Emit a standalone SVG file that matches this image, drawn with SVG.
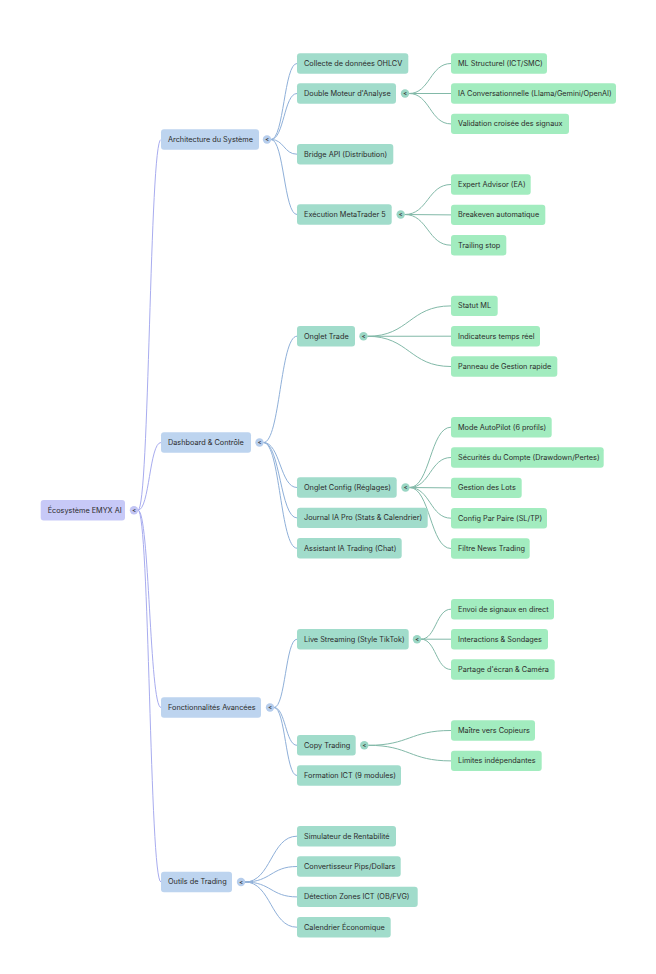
<svg xmlns="http://www.w3.org/2000/svg" width="656" height="974" viewBox="0 0 656 974">
<style>
.bg{fill:#ffffff}
rect.n{rx:3;ry:3;height:20.4px}
.n0{fill:#c7c9f7}
.n1{fill:#bdd4ef}
.n2{fill:#a1dccb}
.n3{fill:#a2ecbf}
text{font-family:Inter,"Noto Sans","Liberation Sans",sans-serif;font-size:7.3px;fill:#2b2b2b}
.tg{font-size:5.5px;font-weight:bold;fill:#333333;text-anchor:middle}
.c0{fill:#c2c5f4}
.c1{fill:#b6cdec}
.c2{fill:#9ad6c4}
.e0{fill:none;stroke:#a8acef;stroke-width:1}
.e1{fill:none;stroke:#8fb0d9;stroke-width:1}
.e2{fill:none;stroke:#82b9a8;stroke-width:1}
</style>
<rect class="bg" x="0" y="0" width="656" height="974"/>
<g id="connectors">
<path class="e0" d="M138,510.2 C149.5,510.2 149.5,139.5 161,139.5"/>
<path class="e0" d="M138,510.2 C149.5,510.2 149.5,442.5 161,442.5"/>
<path class="e0" d="M138,510.2 C149.5,510.2 149.5,707.5 161,707.5"/>
<path class="e0" d="M138,510.2 C149.5,510.2 149.5,882 161,882"/>
<path class="e1" d="M271,139.5 C284,139.5 284,63.5 297,63.5"/>
<path class="e1" d="M271,139.5 C284,139.5 284,93.5 297,93.5"/>
<path class="e1" d="M271,139.5 C284,139.5 284,154.2 297,154.2"/>
<path class="e1" d="M271,139.5 C284,139.5 284,214.5 297,214.5"/>
<path class="e2" d="M409,93.5 C430,93.5 430,63.5 451,63.5"/>
<path class="e2" d="M409,93.5 L451,93.5"/>
<path class="e2" d="M409,93.5 C430,93.5 430,123.9 451,123.9"/>
<path class="e2" d="M404.7,214.5 C427.9,214.5 427.9,184.5 451,184.5"/>
<path class="e2" d="M404.7,214.5 L451,214.9"/>
<path class="e2" d="M404.7,214.5 C427.9,214.5 427.9,245.2 451,245.2"/>
<path class="e1" d="M263.5,442.5 C280.2,442.5 280.2,336.2 297,336.2"/>
<path class="e1" d="M263.5,442.5 C280.2,442.5 280.2,487.5 297,487.5"/>
<path class="e1" d="M263.5,442.5 C280.2,442.5 280.2,517.9 297,517.9"/>
<path class="e1" d="M263.5,442.5 C280.2,442.5 280.2,548.2 297,548.2"/>
<path class="e2" d="M367.5,336.3 C409.3,336.3 409.3,305.9 451,305.9"/>
<path class="e2" d="M367.5,336.3 L451,336.2"/>
<path class="e2" d="M367.5,336.3 C409.3,336.3 409.3,366.5 451,366.5"/>
<path class="e2" d="M409.5,487.5 C430.2,487.5 430.2,427.2 451,427.2"/>
<path class="e2" d="M409.5,487.5 C430.2,487.5 430.2,457.5 451,457.5"/>
<path class="e2" d="M409.5,487.5 L451,487.9"/>
<path class="e2" d="M409.5,487.5 C430.2,487.5 430.2,518.2 451,518.2"/>
<path class="e2" d="M409.5,487.5 C430.2,487.5 430.2,548.5 451,548.5"/>
<path class="e1" d="M274,707.5 C285.5,707.5 285.5,639.2 297,639.2"/>
<path class="e1" d="M274,707.5 C285.5,707.5 285.5,745.3 297,745.3"/>
<path class="e1" d="M274,707.5 C285.5,707.5 285.5,775.5 297,775.5"/>
<path class="e2" d="M421,639.2 C436,639.2 436,609.2 451,609.2"/>
<path class="e2" d="M421,639.2 L451,639.2"/>
<path class="e2" d="M421,639.2 C436,639.2 436,669.5 451,669.5"/>
<path class="e2" d="M368.3,745.3 C409.6,745.3 409.6,730.5 451,730.5"/>
<path class="e2" d="M368.3,745.3 C409.6,745.3 409.6,760.9 451,760.9"/>
<path class="e1" d="M245,882 C271,882 271,836.2 297,836.2"/>
<path class="e1" d="M245,882 C271,882 271,866.5 297,866.5"/>
<path class="e1" d="M245,882 C271,882 271,896.9 297,896.9"/>
<path class="e1" d="M245,882 C271,882 271,927.2 297,927.2"/>
</g>

<g id="root"><rect class="n n0" x="40.7" y="500" width="84.3"/><text x="47.7" y="512.5">Écosystème EMYX AI</text><circle class="c0" cx="134" cy="510.2" r="4.2"/><text class="tg" x="134" y="512.1">&lt;</text></g>

<g id="architecture"><rect class="n n1" x="161" y="129.3" width="98"/><text x="168" y="141.8">Architecture du Système</text><circle class="c1" cx="267" cy="139.5" r="4.2"/><text class="tg" x="267" y="141.4">&lt;</text></g>
<g id="dashboard"><rect class="n n1" x="161" y="432.3" width="90"/><text x="168" y="444.8">Dashboard &amp; Contrôle</text><circle class="c1" cx="259.5" cy="442.5" r="4.2"/><text class="tg" x="259.5" y="444.4">&lt;</text></g>
<g id="fonctionnalites"><rect class="n n1" x="161" y="697.3" width="100"/><text x="168" y="709.8">Fonctionnalités Avancées</text><circle class="c1" cx="270" cy="707.5" r="4.2"/><text class="tg" x="270" y="709.4">&lt;</text></g>
<g id="outils"><rect class="n n1" x="161" y="871.8" width="71"/><text x="168" y="884.3">Outils de Trading</text><circle class="c1" cx="241" cy="882" r="4.2"/><text class="tg" x="241" y="883.9">&lt;</text></g>

<g id="collecte"><rect class="n n2" x="297" y="53.3" width="111.3"/><text x="304" y="65.8">Collecte de données OHLCV</text></g>
<g id="double-moteur"><rect class="n n2" x="297" y="83.3" width="99"/><text x="304" y="95.8">Double Moteur d'Analyse</text><circle class="c2" cx="405" cy="93.5" r="4.2"/><text class="tg" x="405" y="95.4">&lt;</text></g>
<g id="bridge"><rect class="n n2" x="297" y="144" width="96.3"/><text x="304" y="156.5">Bridge API (Distribution)</text></g>
<g id="execution"><rect class="n n2" x="297" y="204.3" width="94.7"/><text x="304" y="216.8">Exécution MetaTrader 5</text><circle class="c2" cx="400.7" cy="214.5" r="4.2"/><text class="tg" x="400.7" y="216.4">&lt;</text></g>
<g id="onglet-trade"><rect class="n n2" x="297" y="326" width="58"/><text x="304" y="338.5">Onglet Trade</text><circle class="c2" cx="363.5" cy="336.3" r="4.2"/><text class="tg" x="363.5" y="338.2">&lt;</text></g>
<g id="onglet-config"><rect class="n n2" x="297" y="477.3" width="99.7"/><text x="304" y="489.8">Onglet Config (Réglages)</text><circle class="c2" cx="405.5" cy="487.5" r="4.2"/><text class="tg" x="405.5" y="489.4">&lt;</text></g>
<g id="journal"><rect class="n n2" x="297" y="507.7" width="130.7"/><text x="304" y="520.2">Journal IA Pro (Stats &amp; Calendrier)</text></g>
<g id="assistant"><rect class="n n2" x="297" y="538" width="104.7"/><text x="304" y="550.5">Assistant IA Trading (Chat)</text></g>
<g id="live"><rect class="n n2" x="297" y="629" width="111.7"/><text x="304" y="641.5">Live Streaming (Style TikTok)</text><circle class="c2" cx="417" cy="639.2" r="4.2"/><text class="tg" x="417" y="641.1">&lt;</text></g>
<g id="copy"><rect class="n n2" x="297" y="735" width="58.7"/><text x="304" y="747.5">Copy Trading</text><circle class="c2" cx="364.3" cy="745.3" r="4.2"/><text class="tg" x="364.3" y="747.2">&lt;</text></g>
<g id="formation"><rect class="n n2" x="297" y="765.3" width="104"/><text x="304" y="777.8">Formation ICT (9 modules)</text></g>
<g id="simulateur"><rect class="n n2" x="297" y="826" width="99"/><text x="304" y="838.5">Simulateur de Rentabilité</text></g>
<g id="convertisseur"><rect class="n n2" x="297" y="856.3" width="103.7"/><text x="304" y="868.8">Convertisseur Pips/Dollars</text></g>
<g id="detection"><rect class="n n2" x="297" y="886.7" width="120.7"/><text x="304" y="899.2">Détection Zones ICT (OB/FVG)</text></g>
<g id="calendrier"><rect class="n n2" x="297" y="917" width="93.7"/><text x="304" y="929.5">Calendrier Économique</text></g>

<g id="ml-structurel"><rect class="n n3" x="451" y="53.3" width="96"/><text x="458" y="65.8">ML Structurel (ICT/SMC)</text></g>
<g id="ia-conv"><rect class="n n3" x="451" y="83.3" width="165"/><text x="458" y="95.8">IA Conversationnelle (Llama/Gemini/OpenAI)</text></g>
<g id="validation"><rect class="n n3" x="451" y="113.7" width="118"/><text x="458" y="126.2">Validation croisée des signaux</text></g>
<g id="expert"><rect class="n n3" x="451" y="174.3" width="79.7"/><text x="458" y="186.8">Expert Advisor (EA)</text></g>
<g id="breakeven"><rect class="n n3" x="451" y="204.7" width="94.3"/><text x="458" y="217.2">Breakeven automatique</text></g>
<g id="trailing"><rect class="n n3" x="451" y="235" width="55.3"/><text x="458" y="247.5">Trailing stop</text></g>
<g id="statut"><rect class="n n3" x="451" y="295.7" width="46.7"/><text x="458" y="308.2">Statut ML</text></g>
<g id="indicateurs"><rect class="n n3" x="451" y="326" width="89"/><text x="458" y="338.5">Indicateurs temps réel</text></g>
<g id="panneau"><rect class="n n3" x="451" y="356.3" width="106.3"/><text x="458" y="368.8">Panneau de Gestion rapide</text></g>
<g id="autopilot"><rect class="n n3" x="451" y="417" width="100.7"/><text x="458" y="429.5">Mode AutoPilot (6 profils)</text></g>
<g id="securites"><rect class="n n3" x="451" y="447.3" width="152.7"/><text x="458" y="459.8">Sécurités du Compte (Drawdown/Pertes)</text></g>
<g id="lots"><rect class="n n3" x="451" y="477.7" width="70.7"/><text x="458" y="490.2">Gestion des Lots</text></g>
<g id="config-paire"><rect class="n n3" x="451" y="508" width="96"/><text x="458" y="520.5">Config Par Paire (SL/TP)</text></g>
<g id="filtre"><rect class="n n3" x="451" y="538.3" width="78.7"/><text x="458" y="550.8">Filtre News Trading</text></g>
<g id="envoi"><rect class="n n3" x="451" y="599" width="103"/><text x="458" y="611.5">Envoi de signaux en direct</text></g>
<g id="interactions"><rect class="n n3" x="451" y="629" width="97"/><text x="458" y="641.5">Interactions &amp; Sondages</text></g>
<g id="partage"><rect class="n n3" x="451" y="659.3" width="103.7"/><text x="458" y="671.8">Partage d'écran &amp; Caméra</text></g>
<g id="maitre"><rect class="n n3" x="451" y="720.3" width="84"/><text x="458" y="732.8">Maître vers Copieurs</text></g>
<g id="limites"><rect class="n n3" x="451" y="750.7" width="90.7"/><text x="458" y="763.2">Limites indépendantes</text></g>
</svg>
